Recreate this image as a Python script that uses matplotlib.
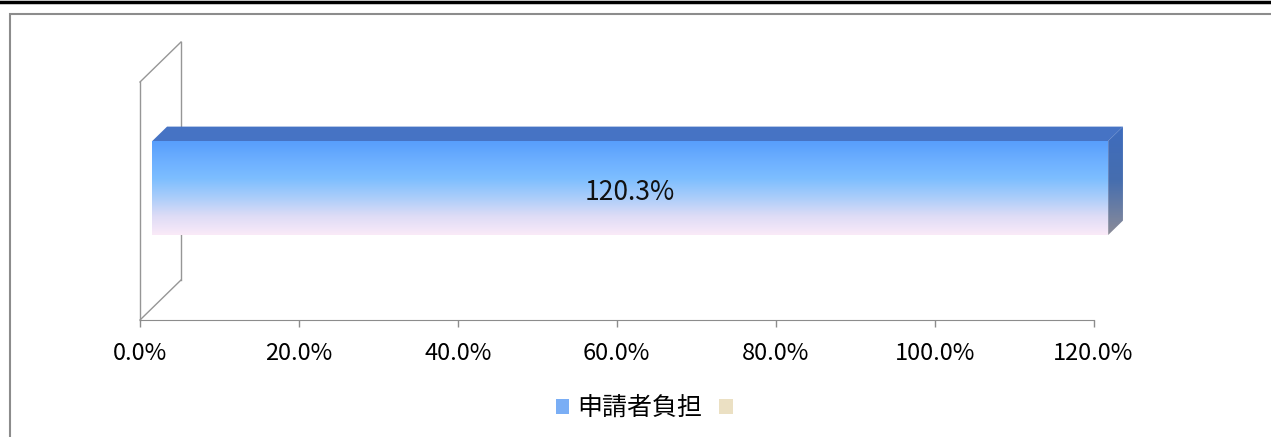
import matplotlib
matplotlib.use('Agg')
import matplotlib.pyplot as plt
import matplotlib.patches as patches
from matplotlib.lines import Line2D
import numpy as np

plt.rcParams['font.family'] = ['Noto Sans CJK JP', 'DejaVu Sans']

# データ
categories = ['申請者負担']
values = [120.3]
x_ticks = [0, 20, 40, 60, 80, 100, 120]
x_tick_labels = ['%.1f%%' % t for t in x_ticks]
legend_labels = ['申請者負担', '']

W, H = 1271, 437
PX = (1093.5 - 140) / 120.0        # 1% あたりのピクセル
DX, DY = 41 / PX, 40.0              # 奥行き方向のずれ (データ単位)


def proj(x, y, d):
    """手前の平面から奥行き d だけずらした点"""
    return (x + d * DX, y + d * DY)


fig = plt.figure(figsize=(W / 100, H / 100), dpi=100)
ax_left, ax_right, ax_bottom, ax_top = 140, 1150, 320, 43
ax = fig.add_axes([ax_left / W, 1 - ax_bottom / H,
                   (ax_right - ax_left) / W, (ax_bottom - ax_top) / H])
ax.set_xlim(0, (ax_right - ax_left) / PX)
ax.set_ylim(0, ax_bottom - ax_top)
ax.patch.set_alpha(0)

for s in ['top', 'right', 'left']:
    ax.spines[s].set_visible(False)
ax.spines['bottom'].set_color('#8c8c8c')
ax.spines['bottom'].set_bounds(0, 120)
ax.set_yticks([])
ax.set_xticks(x_ticks)
ax.set_xticklabels(x_tick_labels, fontsize=17)
ax.tick_params(axis='x', direction='out', length=5, width=1,
               color='#8c8c8c', pad=11)

# 壁 (3D風)
wall_h = 238
wall_col = '#969696'
for pts in [
    [proj(0, 0, 0), proj(0, wall_h, 0)],
    [proj(0, 0, 1), proj(0, wall_h, 1)],
    [proj(0, wall_h, 0), proj(0, wall_h, 1)],
    [proj(0, 0, 0), proj(0, 0, 1)],
]:
    xs, ys = zip(*pts)
    ax.plot(xs, ys, color=wall_col, lw=1, clip_on=False)

# 棒
y0, y1 = 73, 167
df, db = 0.3, 0.66
front_cols = np.array([
    [88, 158, 252], [108, 175, 255], [125, 190, 255],
    [170, 205, 250], [222, 220, 246], [250, 234, 248]]) / 255.0
for cat, v in zip(categories, values):
    fx0, fy0 = proj(0, y0, df)
    fx1, fy1 = proj(v, y1, df)
    t = np.linspace(0, 1, 200)
    grad = np.stack([np.interp(t, np.linspace(0, 1, len(front_cols)),
                               front_cols[:, k]) for k in range(3)], axis=-1)
    ax.imshow(grad[:, None, :], extent=[fx0, fx1, fy0, fy1],
              aspect='auto', origin='upper', interpolation='bilinear', zorder=3)

    top = patches.Polygon([proj(0, y1, df), proj(v, y1, df),
                           proj(v, y1, db), proj(0, y1, db)],
                          closed=True, facecolor='#4673c4', edgecolor='none',
                          zorder=4)
    ax.add_patch(top)

    side_pts = [proj(v, y0, df), proj(v, y0, db), proj(v, y1, db), proj(v, y1, df)]
    side = patches.Polygon(side_pts, closed=True, facecolor='none',
                           edgecolor='none', zorder=4)
    ax.add_patch(side)
    side_cols = np.array([[62, 108, 190], [70, 110, 175], [140, 140, 152]]) / 255.0
    sg = np.stack([np.interp(t, np.linspace(0, 1, len(side_cols)),
                             side_cols[:, k]) for k in range(3)], axis=-1)
    sx = [p[0] for p in side_pts]
    sy = [p[1] for p in side_pts]
    im = ax.imshow(sg[:, None, :], extent=[min(sx), max(sx), min(sy), max(sy)],
                   aspect='auto', origin='upper', interpolation='bilinear', zorder=4)
    im.set_clip_path(side)

    cx, cy = proj(v / 2, (y0 + y1) / 2, df)
    ax.text(cx, cy - 4, '%.1f%%' % v, ha='center', va='center', fontsize=19,
            color='#111111', zorder=5)

ax.set_xlim(0, (ax_right - ax_left) / PX)
ax.set_ylim(0, ax_bottom - ax_top)

# 凡例
handles = [patches.Patch(facecolor='#7aaef5', edgecolor='none'),
           patches.Patch(facecolor='#ebe0c3', edgecolor='none')]
fig.legend(handles, legend_labels, loc='center',
           bbox_to_anchor=(648 / W, 1 - 408 / H), ncol=2, frameon=False,
           handlelength=0.55, handleheight=0.55, handletextpad=0.3,
           columnspacing=0.7, fontsize=18)

# 枠線
fig.add_artist(patches.Rectangle((9.5 / W, -0.1), 2, 1 - 13.5 / H + 0.1,
                                 transform=fig.transFigure, fill=False,
                                 edgecolor='#8c8c8c', lw=1.5))
fig.add_artist(Line2D([0, 1], [1 - 1.5 / H] * 2, transform=fig.transFigure,
                      color='black', lw=2.5))

fig.savefig('out.png', dpi=100)
